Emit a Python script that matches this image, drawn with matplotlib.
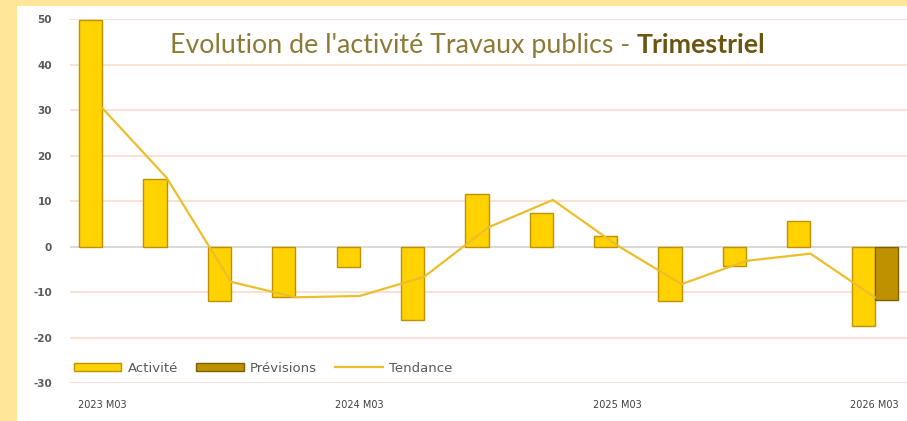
import matplotlib.pyplot as plt
from matplotlib.patches import Rectangle
import numpy as np

plt.rcParams["axes.unicode_minus"] = False

# quarterly data
quarters = ["2023 M03", "2023 M06", "2023 M09", "2023 M12",
            "2024 M03", "2024 M06", "2024 M09", "2024 M12",
            "2025 M03", "2025 M06", "2025 M09", "2025 M12",
            "2026 M03"]
activite = [49.8, 14.8, -11.9, -11.1, -4.5, -16.1, 11.5, 7.5, 2.4, -11.9, -4.2, 5.7, -17.4]
previsions = [None] * 12 + [-11.6]
tendance = [30.5, 15.2, -7.7, -11.1, -10.8, -6.6, 4.3, 10.3, 0.3, -8.2, -3.1, -1.5, -11.1]
shown_ticks = ["2023 M03", "2024 M03", "2025 M03", "2026 M03"]

W, H = 907, 421
fig = plt.figure(figsize=(W / 100, H / 100), dpi=100, facecolor="#FFE699")
fig.patches.append(Rectangle((17 / W, 0), 1, 1 - 6 / H, transform=fig.transFigure,
                             facecolor="white", edgecolor="none", zorder=-5))

ax = fig.add_axes([70 / W, (H - 383.3) / H, 1 - 70 / W, (383.3 - 19.3) / H])
ax.set_facecolor("none")

x = np.arange(len(quarters))
w = 0.36
b1 = ax.bar(x - w / 2, activite, w, color="#FFD200", edgecolor="#BF9000", linewidth=1.0,
            label="Activité", zorder=3)
prev_x = [i + w / 2 for i, v in enumerate(previsions) if v is not None]
prev_y = [v for v in previsions if v is not None]
b2 = ax.bar(prev_x, prev_y, w, color="#BF9000", edgecolor="#7F6000", linewidth=1.0,
            label="Prévisions", zorder=3)
l1, = ax.plot(x, tendance, color="#EDBE2C", linewidth=1.6, label="Tendance", zorder=4)

ax.set_xlim(-0.5, len(quarters) - 0.5)
ax.set_ylim(-30, 50)
ax.set_yticks(range(-30, 51, 10))
ax.grid(axis="y", color="#FBDCCB", linewidth=1.2, zorder=0)
ax.axhline(0, color="#D9D9D9", linewidth=1.3, zorder=2)
for s in ax.spines.values():
    s.set_visible(False)

ax.set_xticks([quarters.index(q) for q in shown_ticks])
ax.set_xticklabels(shown_ticks, fontsize=7, color="#404040")
ax.tick_params(axis="x", length=0, pad=12)
ax.tick_params(axis="y", length=0, pad=13, labelsize=7.5, labelcolor="#595959")
for lab in ax.get_yticklabels():
    lab.set_fontweight("bold")

leg = ax.legend([b1, b2, l1], ["Activité", "Prévisions", "Tendance"],
                loc="center left", bbox_to_anchor=(0.0, 0.042), ncol=3, frameon=False,
                prop={"family": "DejaVu Sans", "size": 9.5},
                handlelength=3.6, handleheight=0.5, columnspacing=1.4,
                handletextpad=0.45, borderaxespad=0.0, borderpad=0.3)
for t in leg.get_texts():
    t.set_color("#595959")

t1 = fig.text(170 / W, (H - 53) / H, "Evolution de l'activité Travaux publics - ",
              fontsize=19.3, color="#8C7A38", family="Lato", va="baseline")
fig.canvas.draw()
bb = t1.get_window_extent()
fig.text(bb.x1 / W, (H - 53) / H, "Trimestriel", fontsize=19.3, color="#6B5510",
         family="Lato", fontweight="bold", va="baseline")

fig.savefig("out.png", dpi=100, facecolor=fig.get_facecolor())
